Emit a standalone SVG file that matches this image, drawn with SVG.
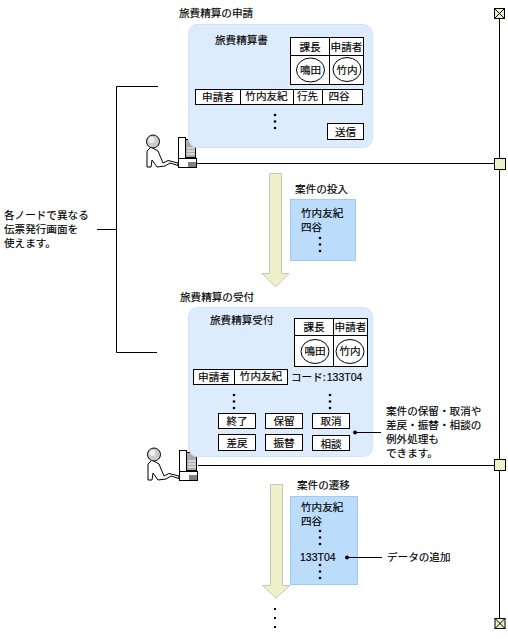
<svg xmlns="http://www.w3.org/2000/svg" width="508" height="639" viewBox="0 0 508 639">
<style>
text{font-family:"Noto Sans CJK JP","DejaVu Sans",sans-serif;font-size:10.6px;fill:#000;stroke:#000;stroke-width:.15px}
.l{font-family:"Liberation Sans","Noto Sans CJK JP",sans-serif;font-size:10.5px}
.c{text-anchor:middle}
.panel{fill:#dcecfc;stroke:#cfe4fa;stroke-width:1}
.data{fill:#bcdcfc;stroke:#9ccbf7;stroke-width:1}
.cell{fill:#fff;stroke:#000;stroke-width:1}
.nofill{fill:none;stroke:#000;stroke-width:1}
.arrow{fill:#efefc8;stroke:#c4c4c4;stroke-width:1}
.term{fill:#efefc8;stroke:#000;stroke-width:1}
.wire{fill:none;stroke:#000;stroke-width:1}
.seal{fill:#fff;stroke:#000;stroke-width:1}
</style>
<defs>
<g id="user">
<path d="M151 147 L147 151 L147 167 L151 167 L152 160 L157 167 L165 166 L170 163 L178 165.500 L178 163 L168 160.500 L163 163 L158 151 Z" fill="#fff" stroke="#000"/>
<circle cx="153" cy="141.500" r="6.500" fill="#ccc" stroke="#000"/>
<circle cx="151.500" cy="140" r="3" fill="#eee"/>
<rect x="184.500" y="139.500" width="11" height="18" fill="#aaa" stroke="#000"/>
<path d="M187 148H195M187 151H195M187 154H195" stroke="#fff"/>
<rect x="178.500" y="137.500" width="7" height="21" fill="#fff" stroke="#000"/>
<rect x="178.500" y="158.500" width="18" height="9" fill="#fff" stroke="#000"/>
<path d="M189 162V167M191 162V167M193 162V167M195 162V167" stroke="#000"/>
</g>
<circle id="dot" r="1.300" fill="#000"/>
<g id="vdots"><use href="#dot" y="0"/><use href="#dot" y="6.500"/><use href="#dot" y="13"/></g>
</defs>

<g id="connectors">
<path class="wire" d="M499.500 13V623"/>
<path class="wire" d="M197 163.500H495"/>
<path class="wire" d="M198 465.500H495"/>
<path class="wire" d="M158 86.500H116.500V352.500H157"/>
<path class="wire" d="M97 229.500H116"/>
</g>

<g id="lifeline-terminals">
<g id="term-top"><rect class="term" x="494.500" y="8.500" width="10" height="10"/><path class="wire" d="M494.500 8.500L504.500 18.500M504.500 8.500L494.500 18.500"/></g>
<rect id="term-1" class="term" x="494.500" y="158.500" width="11" height="11"/>
<rect id="term-2" class="term" x="494.500" y="459.500" width="11" height="11"/>
<g id="term-bottom"><rect class="term" x="495" y="618.500" width="10" height="10"/><path class="wire" d="M495 618.500L505 628.500M505 618.500L495 628.500"/></g>
</g>

<g id="user-1"><use href="#user"/></g>
<g id="user-2"><use href="#user" x="1" y="313"/></g>

<g id="note-left">
<text x="4" y="219">各ノードで異なる</text>
<text x="4" y="233">伝票発行画面を</text>
<text x="4" y="247">使えます。</text>
</g>

<g id="application-form">
<text x="179" y="17">旅費精算の申請</text>
<rect class="panel" x="188.500" y="24.500" width="184" height="123" rx="9"/>
<text x="215" y="44">旅費精算書</text>
<rect class="cell" x="290.500" y="37.500" width="73" height="47"/>
<path class="nofill" d="M329.500 37.500V84.500M290.500 55.500H363.500"/>
<text class="c" x="310" y="51">課長</text>
<text class="c" x="346.500" y="51">申請者</text>
<ellipse class="seal" cx="310.500" cy="70" rx="14" ry="12"/>
<ellipse class="seal" cx="347" cy="69.500" rx="14" ry="12"/>
<text class="c" x="310.500" y="74">鳴田</text>
<text class="c" x="347" y="74">竹内</text>
<rect class="cell" x="195.500" y="89.500" width="167" height="15"/>
<path class="nofill" d="M240.500 89.500V104.500M293.500 89.500V104.500M322.500 89.500V104.500"/>
<text class="c" x="218" y="101">申請者</text>
<text class="c" x="266.500" y="100">竹内友紀</text>
<text class="c" x="307.500" y="100">行先</text>
<text class="c" x="339" y="100">四谷</text>
<use href="#vdots" x="275" y="115"/>
<rect class="cell" x="327.500" y="123.500" width="36" height="16"/>
<text class="c" x="345.500" y="136">送信</text>
</g>

<g id="flow-arrow-1">
<path class="arrow" d="M269.500 173.500H281.500V273.500H289L275.500 287L262 273.500H269.500Z"/>
</g>

<g id="submission-data">
<text x="295" y="193">案件の投入</text>
<rect class="data" x="290.500" y="199.500" width="65" height="61"/>
<text x="301" y="216.500">竹内友紀</text>
<text x="301" y="230.500">四谷</text>
<use href="#vdots" x="320" y="238"/>
</g>

<g id="reception-form">
<text x="180" y="301">旅費精算の受付</text>
<rect class="panel" x="188.500" y="307.500" width="184" height="149" rx="9"/>
<text x="210" y="324">旅費精算受付</text>
<rect class="cell" x="294.500" y="318.500" width="73" height="48"/>
<path class="nofill" d="M333.500 318.500V366.500M294.500 335.500H367.500"/>
<text class="c" x="314" y="331">課長</text>
<text class="c" x="350.500" y="331">申請者</text>
<ellipse class="seal" cx="315" cy="351.500" rx="14" ry="12"/>
<ellipse class="seal" cx="350" cy="351.500" rx="14" ry="12"/>
<text class="c" x="315" y="355">鳴田</text>
<text class="c" x="350" y="355">竹内</text>
<rect class="cell" x="193.500" y="369.500" width="94" height="15"/>
<path class="nofill" d="M234.500 369.500V384.500"/>
<text class="c" x="214" y="381">申請者</text>
<text class="c" x="261" y="380">竹内友紀</text>
<text x="291" y="381">コード:<tspan class="l" dx="1">133T04</tspan></text>
<use href="#vdots" x="234" y="395"/>
<use href="#vdots" x="330" y="395"/>
<g id="btn-end"><rect class="cell" x="218.500" y="413.500" width="37" height="15"/><text class="c" x="237" y="425">終了</text></g>
<g id="btn-hold"><rect class="cell" x="265.500" y="413.500" width="37" height="15"/><text class="c" x="284" y="425">保留</text></g>
<g id="btn-cancel"><rect class="cell" x="312.500" y="413.500" width="37" height="15"/><text class="c" x="331" y="425">取消</text></g>
<g id="btn-return"><rect class="cell" x="218.500" y="434.500" width="37" height="16"/><text class="c" x="237" y="447">差戻</text></g>
<g id="btn-transfer"><rect class="cell" x="265.500" y="434.500" width="37" height="16"/><text class="c" x="284" y="447">振替</text></g>
<g id="btn-consult"><rect class="cell" x="312.500" y="435.500" width="37" height="15"/><text class="c" x="331" y="448">相談</text></g>
<circle cx="355" cy="432.500" r="2" fill="#000"/>
<path class="wire" d="M355 432.500H381"/>
</g>

<g id="note-exception">
<text x="386" y="415">案件の保留・取消や</text>
<text x="386" y="429">差戻・振替・相談の</text>
<text x="386" y="443">例外処理も</text>
<text x="386" y="457">できます。</text>
</g>

<g id="flow-arrow-2">
<path class="arrow" d="M270.500 484.500H282.500V585.500H290L276 598L262.500 585.500H270.500Z"/>
</g>

<g id="transition-data">
<text x="297" y="489">案件の遷移</text>
<rect class="data" x="290.500" y="496.500" width="67" height="88"/>
<text x="301" y="511">竹内友紀</text>
<text x="301" y="525">四谷</text>
<use href="#vdots" x="320" y="531"/>
<text class="l" x="300" y="561">133T04</text>
<use href="#vdots" x="320" y="565"/>
<circle cx="347" cy="557.500" r="2" fill="#000"/>
<path class="wire" d="M347 557.500H382"/>
</g>

<g id="note-add"><text x="387" y="561">データの追加</text></g>

<g id="continuation">
<rect x="274" y="608" width="2" height="2" fill="#000"/>
<rect x="274" y="617" width="2" height="2" fill="#000"/>
<rect x="274" y="626" width="2" height="2" fill="#000"/>
</g>
</svg>
